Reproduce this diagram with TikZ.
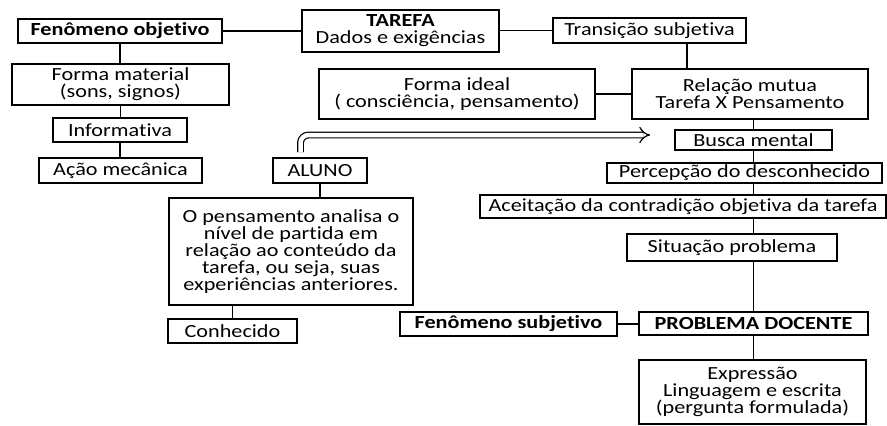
\documentclass[tikz,border=0pt]{standalone}
\usepackage{fontspec}
\setmainfont{Carlito}[FakeStretch=1.2, Ligatures={NoCommon}]
\usetikzlibrary{arrows.meta}
\tikzset{
  bx/.style={draw, line width=1.7pt, inner sep=0pt, align=center,
    font=\fontsize{18.5pt}{17pt}\selectfont},
  ln/.style={line width=1.7pt},
}
\begin{document}
\begin{tikzpicture}[x=1pt,y=-1pt]
\useasboundingbox (0,0) rectangle (887,426);
\node[bx, minimum width=204, minimum height=24] (fobj) at (120,31) {\textbf{Fenômeno objetivo}};
\node[bx, minimum width=197, minimum height=42] (tarefa) at (400.5,31) {\textbf{TAREFA}\\Dados e exigências};
\node[bx, minimum width=193, minimum height=25] (trans) at (649.5,30.5) {Transição subjetiva};
\node[bx, minimum width=236, minimum height=50] (relacao) at (750,94) {Relação mutua\\Tarefa X Pensamento};
\node[bx, minimum width=276, minimum height=50] (ideal) at (457,94) {Forma ideal\\( consciência, pensamento)};
\node[bx, minimum width=217, minimum height=41] (material) at (120.5,84.5) {Forma material\\(sons, signos)};
\node[bx, minimum width=134, minimum height=24] (info) at (120,130) {Informativa};
\node[bx, minimum width=163, minimum height=25] (acao) at (120.5,170.5) {Ação mecânica};
\node[bx, minimum width=94, minimum height=25] (aluno) at (320,170.5) {ALUNO};
\node[bx, minimum width=157, minimum height=20] (busca) at (753.5,140) {Busca mental};
\node[bx, minimum width=275, minimum height=20] (percep) at (744.5,173) {Percepção do desconhecido};
\node[bx, minimum width=406, minimum height=23] (aceit) at (683,206.5) {Aceitação da contradição objetiva da tarefa};
\node[bx, minimum width=210, minimum height=27] (sit) at (732,247.5) {Situação problema};
\node[bx, minimum width=229, minimum height=23] (probdoc) at (753.5,323.5) {\textbf{PROBLEMA DOCENTE}};
\node[bx, minimum width=217, minimum height=24] (fsub) at (508.5,324) {\textbf{Fenômeno subjetivo}};
\node[bx, minimum width=227, minimum height=64] (expr) at (752.5,392) {Expressão\\Linguagem e escrita\\(pergunta formulada)};
\node[bx, minimum width=244, minimum height=107] (pens) at (291,251.5) {O pensamento analisa o\\nível de partida em\\relação ao conteúdo da\\tarefa, ou seja, suas\\experiências anteriores.};
\node[bx, minimum width=129, minimum height=24] (conh) at (232.5,331) {Conhecido};

\draw[ln] (fobj.east) -- (tarefa.west);
\draw[ln] (tarefa.east |- trans.west) -- (trans.west);
\draw[ln] ([xshift=37.5pt]trans.south) -- ([xshift=37.5pt]trans.south |- relacao.north);
\draw[ln] (ideal.east) -- (relacao.west);
\draw[ln] (fobj.south) -- (fobj.south |- material.north);
\draw[ln] (material.south) -- (material.south |- info.north);
\draw[ln] (info.south) -- (info.south |- acao.north);
\draw[ln] (busca.north |- relacao.south) -- (busca.north);
\draw[ln] (busca.south) -- (busca.south |- percep.north);
\draw[ln] (busca.south |- percep.south) -- (busca.south |- aceit.north);
\draw[ln] (busca.south |- aceit.south) -- (busca.south |- sit.north);
\draw[ln] (busca.south |- sit.south) -- (busca.south |- probdoc.north);
\draw[ln] (fsub.east) -- (probdoc.west |- fsub.east);
\draw[ln] (probdoc.south) -- (probdoc.south |- expr.north);
\draw[ln] (aluno.south) -- (aluno.south |- pens.north);
\draw[ln] (conh.north |- pens.south) -- (conh.north);
\coordinate (arrstart) at ([xshift=-19.5pt,yshift=5pt]aluno.north);
\coordinate (arrend) at ([xshift=-24pt,yshift=5pt]busca.west);
\draw[line width=1.2pt, double, double distance=4.5pt, rounded corners=8pt, -{Implies[length=7pt,width=14pt]}]
  (arrstart) |- (arrend);
\end{tikzpicture}
\end{document}
